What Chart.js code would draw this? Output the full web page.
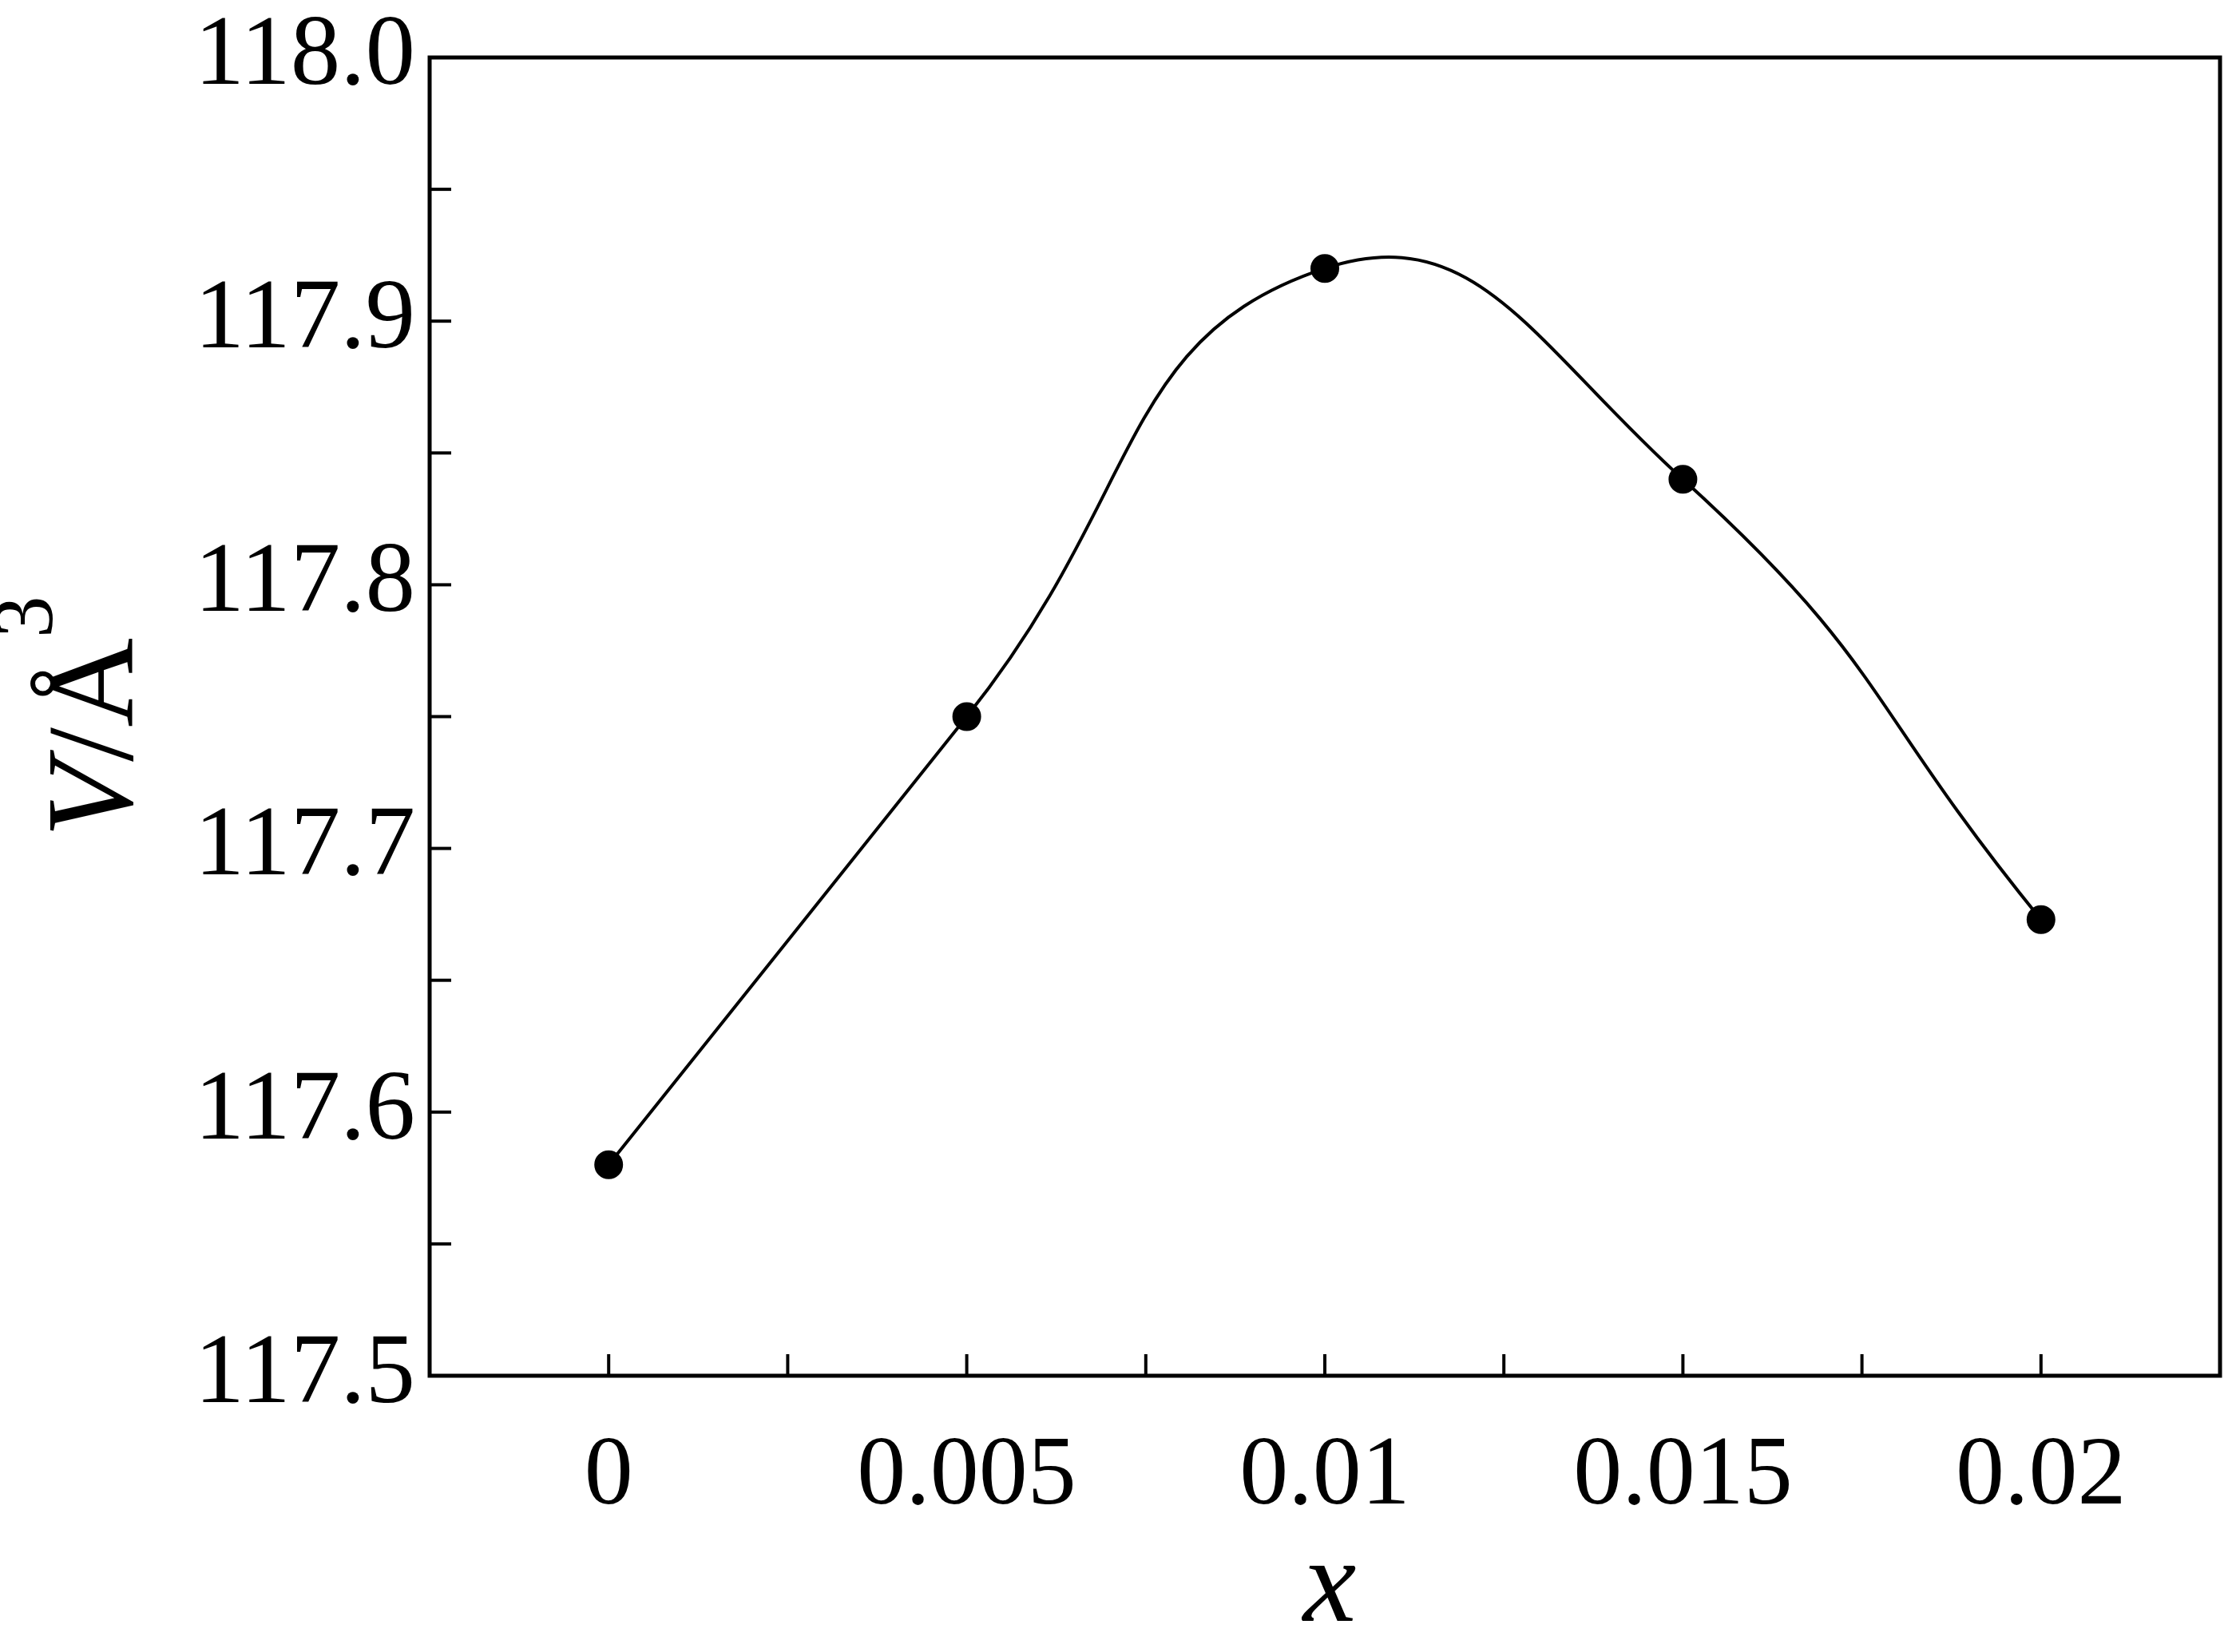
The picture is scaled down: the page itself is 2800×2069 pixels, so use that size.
<!DOCTYPE html>
<html><head><meta charset="utf-8">
<script src="https://cdn.jsdelivr.net/npm/chart.js@4"></script>
<style>html,body{margin:0;padding:0;background:#fff}canvas{display:block}</style>
</head><body>
<div style="width:2800px;height:2069px"><canvas id="c"></canvas></div>
<script>
const xValues = [0, 0.005, 0.01, 0.015, 0.02];
const volumes = [117.58, 117.75, 117.92, 117.84, 117.673];
const yTickLabels = ['117.5','117.6','117.7','117.8','117.9','118.0'];
const xTickLabels = ['0','0.005','0.01','0.015','0.02'];

const frame = {
  id:'frame',
  afterDraw(chart){
    const {ctx, chartArea:a, scales:{x,y}} = chart;
    ctx.save();
    ctx.strokeStyle='#000'; ctx.lineWidth=5;
    ctx.strokeRect(a.left,a.top,a.right-a.left,a.bottom-a.top);
    ctx.lineWidth=4;
    const L=27;
    y.ticks.forEach(t=>{const p=y.getPixelForValue(t.value);
      if(p>a.top+3&&p<a.bottom-3){ctx.beginPath();ctx.moveTo(a.left,p);ctx.lineTo(a.left+L,p);ctx.stroke();}});
    x.ticks.forEach(t=>{const p=x.getPixelForValue(t.value);
      if(p>a.left+3&&p<a.right-3){ctx.beginPath();ctx.moveTo(p,a.bottom);ctx.lineTo(p,a.bottom-L);ctx.stroke();}});
    ctx.fillStyle='#000';
    ctx.font='italic 150px "Liberation Serif"';
    ctx.textAlign='center'; ctx.textBaseline='alphabetic';
    ctx.fillText('x', 1665, 2030);
    ctx.translate(165, (a.top+a.bottom)/2);
    ctx.rotate(-Math.PI/2);
    ctx.textAlign='left';
    const f1='italic 155px "Liberation Serif"', f2='155px "Liberation Serif"', f3='105px "Liberation Serif"';
    ctx.font=f1; const w1=ctx.measureText('V').width;
    ctx.font=f2; const w2=ctx.measureText('/Å').width;
    ctx.font=f3; const w3=ctx.measureText('3').width;
    let sx=-(w1+w2+w3)/2;
    ctx.font=f1; ctx.fillText('V',sx,0); sx+=w1;
    ctx.font=f2; ctx.fillText('/Å',sx,0); sx+=w2;
    ctx.font=f3; ctx.fillText('3',sx,-100);
    ctx.restore();
  }
};

new Chart(document.getElementById('c'),{
  type:'scatter',
  data:{datasets:[{
    data:xValues.map((v,i)=>({x:v,y:volumes[i]})),
    showLine:true, tension:0.5, borderColor:'#000', borderWidth:4,
    pointRadius:16, pointBackgroundColor:'#000', pointBorderColor:'#000'
  }]},
  options:{
    responsive:true, maintainAspectRatio:false, animation:false,
    layout:{padding:{top:72,right:9,left:0,bottom:0}},
    plugins:{legend:{display:false},tooltip:{enabled:false}},
    scales:{
      x:{type:'linear',min:-0.0025,max:0.0225,
        grid:{display:false,drawTicks:false},border:{display:false},
        afterFit(s){s.height=346;s.paddingLeft=0;s.paddingRight=0;},
        ticks:{stepSize:0.0025,padding:55,color:'#000',maxRotation:0,autoSkip:false,
          font:{family:'Liberation Serif',size:122},
          callback(v){const r=Math.round(v*10000); if(r>=0&&r%50===0){const i=r/50; return xTickLabels[i]??'';} return '';}}},
      y:{min:117.5,max:118.0,
        grid:{display:false,drawTicks:false},border:{display:false},
        afterFit(s){s.width=538;s.paddingTop=0;s.paddingBottom=0;},
        ticks:{stepSize:0.05,padding:18,color:'#000',autoSkip:false,
          font:{family:'Liberation Serif',size:125},
          callback(v){const r=Math.round((v-117.5)*100); if(r%10===0){return yTickLabels[r/10]??'';} return '';}}}
    }
  },
  plugins:[frame]
});
</script>
</body></html>
